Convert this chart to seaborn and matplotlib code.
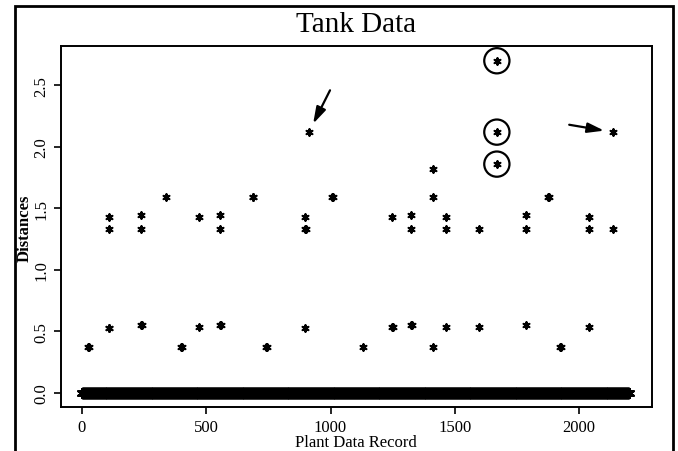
import numpy as np
import pandas as pd
import matplotlib
matplotlib.use("Agg")
import matplotlib.pyplot as plt
import seaborn as sns
from matplotlib.patches import Rectangle

# ---- data ----
n_records = 2200
outlier_records = [24, 28, 108, 108, 108, 110, 237, 237, 237, 240, 338, 398, 401,
                   470, 470, 555, 555, 555, 558, 687, 690, 740, 743,
                   897, 897, 900, 897, 913, 1005, 1008, 1130,
                   1247, 1247, 1250, 1323, 1323, 1323, 1326,
                   1412, 1412, 1412, 1465, 1465, 1465, 1597, 1597,
                   1669, 1669, 1669, 1786, 1786, 1786, 1875, 1878,
                   1923, 1926, 2040, 2040, 2040, 2136, 2136]
outlier_distances = [0.37, 0.37, 1.43, 1.33, 0.53, 0.53, 1.45, 1.33, 0.55, 0.55, 1.59, 0.37, 0.37,
                     1.43, 0.54, 1.45, 1.33, 0.55, 0.55, 1.59, 1.59, 0.37, 0.37,
                     1.43, 1.33, 1.33, 0.53, 2.12, 1.59, 1.59, 0.37,
                     1.43, 0.54, 0.54, 1.45, 1.33, 0.55, 0.55,
                     1.82, 1.59, 0.37, 1.43, 1.33, 0.54, 1.33, 0.54,
                     2.70, 2.12, 1.86, 1.45, 1.33, 0.55, 1.59, 1.59,
                     0.37, 0.37, 1.43, 1.33, 0.54, 2.12, 1.33]
circled_records = [1669, 1669, 1669]
circled_distances = [2.70, 2.12, 1.86]
arrow_targets = [(913, 2.12), (2136, 2.12)]
arrow_starts = [(998, 2.46), (1960, 2.18)]
x_ticks = [0, 500, 1000, 1500, 2000]
y_ticks = [0.0, 0.5, 1.0, 1.5, 2.0, 2.5]
y_tick_labels = ["0.0", "0.5", "1.0", "1.5", "2.0", "2.5"]

sns.set_style("white")
plt.rcParams['font.family'] = ['Liberation Serif', 'DejaVu Serif']
plt.rcParams.update({"text.color": "black", "axes.labelcolor": "black",
                     "xtick.color": "black", "ytick.color": "black"})

W, H = 678, 452
fig = plt.figure(figsize=(W / 100, H / 100), dpi=100)
ax = fig.add_axes([61 / W, 1 - 408 / H, (652 - 61) / W, (408 - 47) / H])

base = pd.DataFrame({"record": np.arange(1, n_records + 1), "distance": np.zeros(n_records)})
outl = pd.DataFrame({"record": outlier_records, "distance": outlier_distances})

ast = (6, 2, 0)
sns.scatterplot(data=base, x="record", y="distance", ax=ax, marker=ast, s=42,
                color="black", linewidth=1.8)
sns.scatterplot(data=outl, x="record", y="distance", ax=ax, marker=ast, s=22,
                color="black", linewidth=1.5)
ax.scatter(circled_records, circled_distances, s=330, facecolors="none",
           edgecolors="black", linewidths=1.6, zorder=3)

for (tx, ty), (sx, sy) in zip(arrow_targets, arrow_starts):
    ax.annotate("", xy=(tx + (sx - tx) * 0.2, ty + (sy - ty) * 0.2), xytext=(sx, sy),
                arrowprops=dict(arrowstyle="-|>,head_length=1.0,head_width=0.3",
                                color="black", lw=1.6, shrinkA=0, shrinkB=0))

ax.set_xlim(-84, 2293)
ax.set_ylim(-0.114, 2.82)
ax.set_xticks(x_ticks)
ax.set_yticks(y_ticks)
ax.set_yticklabels(y_tick_labels, rotation=90, va="center")
ax.tick_params(axis="both", direction="out", length=5, width=1.2, labelsize=12,
               colors="black", left=True, bottom=True)
ax.set_xlabel("")
ax.set_ylabel("")
for sp in ax.spines.values():
    sp.set_color("black")
    sp.set_linewidth(1.4)
    sp.set_visible(True)

fig.text(356 / W, 1 - 32 / H, "Tank Data", ha="center", va="baseline", fontsize=21,
         color="black")
fig.text(356 / W, 1 - 443 / H, "Plant Data Record", ha="center", va="center", fontsize=12,
         color="black")
fig.text(25 / W, 1 - 228 / H, "Distances", ha="center", va="center", fontsize=12,
         rotation=90, fontweight="bold", color="black")

fig.patches.append(Rectangle((15 / W, -0.05), (673 - 15) / W, 1.05 - 7 / H,
                             transform=fig.transFigure, fill=False,
                             edgecolor="black", linewidth=2, clip_on=False))

fig.savefig("out.png", dpi=100, facecolor="white")
